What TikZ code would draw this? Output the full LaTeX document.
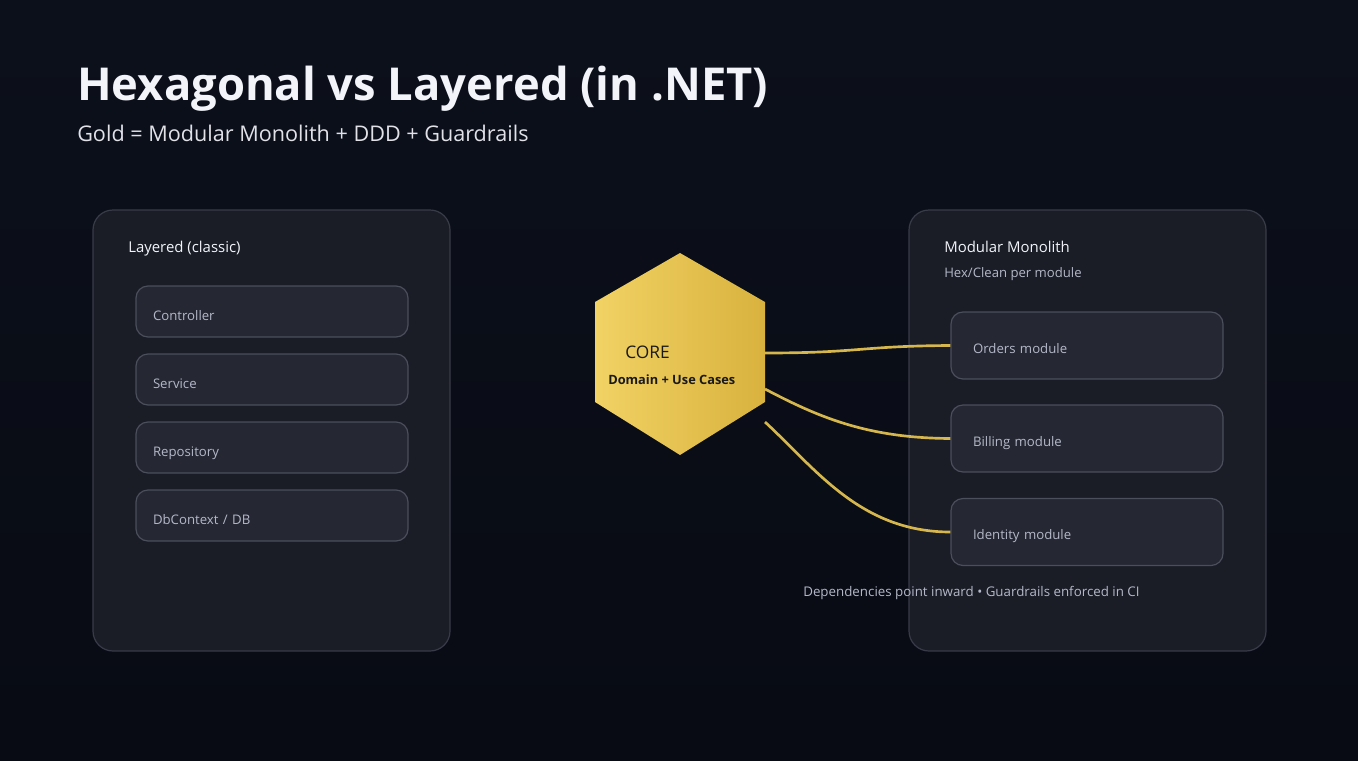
\documentclass[tikz,border=0pt]{standalone}
\usepackage{fontspec}
\setmainfont{Open Sans}
\usetikzlibrary{positioning}

\definecolor{fondo}{HTML}{0C101B}
\definecolor{fondobajo}{HTML}{080B13}
\definecolor{panelfondo}{HTML}{1A1C26}
\definecolor{panelborde}{HTML}{393C48}
\definecolor{cajafondo}{HTML}{252733}
\definecolor{cajaborde}{HTML}{4B4E5B}
\definecolor{textoclaro}{HTML}{F2F4FA}
\definecolor{textogris}{HTML}{B4B8C8}
\definecolor{oroclaro}{HTML}{F1D264}
\definecolor{oroscuro}{HTML}{D9B23E}
\definecolor{orolinea}{HTML}{D6B74E}

\begin{document}
\begin{tikzpicture}[
        x=0.75pt, y=-0.75pt,
        panel/.style={
            draw=panelborde,
            fill=panelfondo,
            rounded corners=15pt,
            line width=0.9pt,
            minimum width=267.75pt,
            minimum height=330.75pt
        },
        capa/.style={
            draw=cajaborde,
            fill=cajafondo,
            rounded corners=9pt,
            line width=0.9pt,
            text width=178.5pt,
            inner xsep=12.75pt,
            inner ysep=0pt,
            text height=25.5pt,
            text depth=12.75pt,
            align=left,
            text=textogris,
            font=\fontsize{9.9}{11}\selectfont
        },
        modulo/.style={
            capa,
            text width=171pt,
            inner xsep=16.5pt,
            text height=30.75pt,
            text depth=19.5pt
        },
        titulo/.style={
            anchor=base west,
            inner sep=0pt,
            text=textoclaro,
            font=\fontsize{11.2}{13}\selectfont
        },
        enlace/.style={
            draw=orolinea,
            line width=2pt
        }
    ]

    % Fondo
    \fill[top color=fondo, bottom color=fondobajo] (0,0) rectangle (1358,760);
    \useasboundingbox (0,0) rectangle (1358,760);

    % Titulos
    \node[anchor=base west, inner sep=0pt, text=textoclaro,
        font=\fontsize{34}{38}\selectfont\bfseries]
        (tit) at (77,100) {Hexagonal vs Layered (in .NET)};
    \node[anchor=base west, inner sep=0pt, text=textoclaro!85!gray,
        font=\fontsize{16.2}{19}\selectfont]
        (sub) at (77,141) {Gold = Modular Monolith + DDD + Guardrails};

    % Panel izquierdo
    \node[panel] (capas) at (271.5,430.5) {};
    \node[titulo] (capastit) at (128,252) {Layered (classic)};

    \node[capa] (controller) at (272,311.5) {Controller};
    \node[capa] (service) at (272,379.5) {Service};
    \node[capa] (repository) at (272,447.5) {Repository};
    \node[capa] (dbcontext) at (272,515.5) {DbContext / DB};

    % Panel derecho
    \node[panel] (monolito) at (1087.5,430.5) {};
    \node[titulo] (monotit) at (944,252) {Modular Monolith};
    \node[titulo, text=textogris, font=\fontsize{9.85}{11}\selectfont]
        (monosub) at (944,277) {Hex/Clean per module};

    \node[modulo] (orders) at (1087,345.5) {Orders module};
    \node[modulo] (billing) at (1087,438.5) {Billing module};
    \node[modulo] (identity) at (1087,532) {Identity module};

    % Hexagono del nucleo
    \shade[left color=oroclaro, right color=oroscuro]
        (680,253) -- (765,302) -- (765,402) -- (680,455)
        -- (595,402) -- (595,302) -- cycle;
    \node[anchor=base west, inner sep=0pt, text=black!90,
        font=\fontsize{13}{15}\selectfont]
        (core) at (625,358) {CORE};
    \node[anchor=base west, inner sep=0pt, text=black!90,
        font=\fontsize{9.6}{11}\selectfont\bfseries]
        (dominio) at (608,384) {Domain + Use Cases};

    \coordinate (s1) at (765,353);
    \coordinate (s2) at (765,389);
    \coordinate (s3) at (765,422);

    % Conexiones hacia los modulos
    \draw[enlace] (s1) .. controls (860,353) and (860,346) .. (orders.west);
    \draw[enlace] (s2) .. controls (820,418) and (868,438) .. (billing.west);
    \draw[enlace] (s3) .. controls (815,468) and (860,532) .. (identity.west);

    % Nota al pie
    \node[anchor=base west, inner sep=0pt, text=textogris,
        font=\fontsize{10}{12}\selectfont]
        (nota) at (803,596) {Dependencies point inward • Guardrails enforced in CI};

    \end{tikzpicture}
\end{document}
